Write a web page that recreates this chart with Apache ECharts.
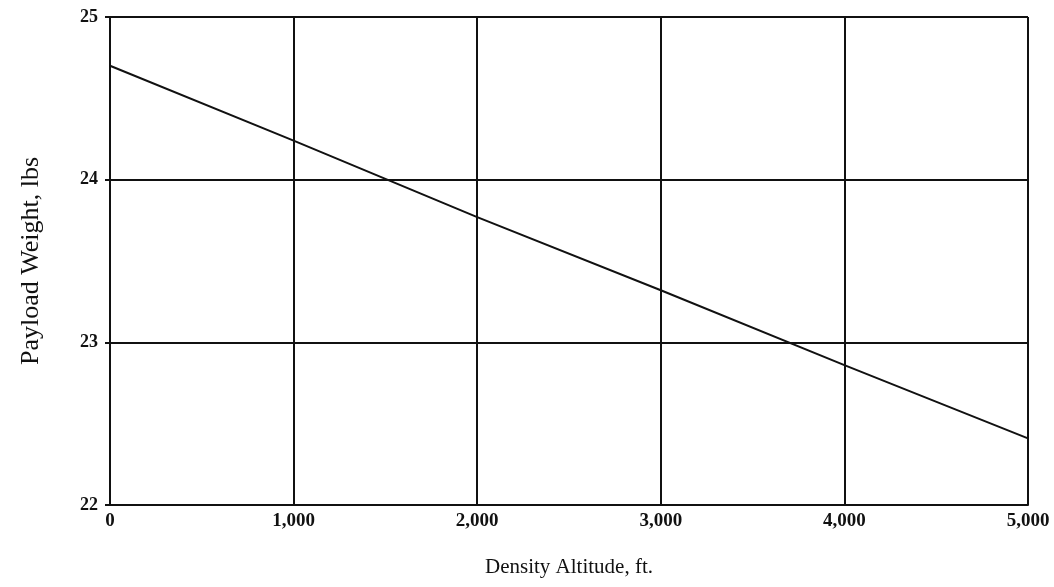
<!DOCTYPE html>
<html>
<head>
<meta charset="utf-8">
<script src="https://cdn.jsdelivr.net/npm/echarts@6/dist/echarts.min.js"></script>
<style>
  html, body { margin: 0; padding: 0; background: #fff; }
  #chart { width: 1054px; height: 587px; }
</style>
</head>
<body>
<div id="chart"></div>
<script>
// density altitude (ft) vs payload weight (lbs)
var altitudes = [0, 1000, 2000, 3000, 4000, 5000]
var payload = [24.7, 24.24, 23.77, 23.32, 22.86, 22.41]

var xTicks = [0, 1000, 2000, 3000, 4000, 5000]
var yTicks = [22, 23, 24, 25]

var serif = '"Liberation Serif", "DejaVu Serif", serif'

var chartDom = document.getElementById('chart');
var myChart = echarts.init(chartDom);

var seriesData = []
altitudes.forEach(function(a, i) {
    seriesData.push([a, payload[i]])
})

var option = {
    animation: false,
    backgroundColor: '#fff',
    grid: {
        left: 110,
        right: 26,
        top: 17,
        bottom: 82
    },
    xAxis: {
        type: 'value',
        min: xTicks[0],
        max: xTicks[xTicks.length - 1],
        interval: 1000,
        name: 'Density Altitude, ft.',
        nameLocation: 'middle',
        nameGap: 52,
        nameTextStyle: { fontFamily: serif, fontSize: 21, color: '#111' },
        axisLine: { show: true, lineStyle: { color: '#111', width: 2 } },
        axisTick: { show: false },
        axisLabel: {
            margin: 7,
            fontFamily: serif,
            fontWeight: 'bold',
            fontSize: 19,
            color: '#111',
            formatter: function(v) { return v.toLocaleString('en-US') }
        },
        splitLine: { show: true, lineStyle: { color: '#111', width: 2 } }
    },
    yAxis: {
        type: 'value',
        min: yTicks[0],
        max: yTicks[yTicks.length - 1],
        interval: 1,
        name: 'Payload Weight, lbs',
        nameLocation: 'middle',
        nameGap: 66,
        nameTextStyle: { fontFamily: serif, fontSize: 26, color: '#111' },
        axisLine: { show: true, lineStyle: { color: '#111', width: 2 } },
        axisTick: { show: true, length: 5, inside: false, lineStyle: { color: '#111', width: 2 } },
        axisLabel: {
            margin: 12,
            fontFamily: serif,
            fontWeight: 'bold',
            fontSize: 18,
            color: '#111'
        },
        splitLine: { show: true, lineStyle: { color: '#111', width: 2 } }
    },
    series: [
        {
            type: 'line',
            data: seriesData,
            showSymbol: false,
            lineStyle: { color: '#111', width: 2 }
        }
    ]
};

myChart.setOption(option);
</script>
</body>
</html>
